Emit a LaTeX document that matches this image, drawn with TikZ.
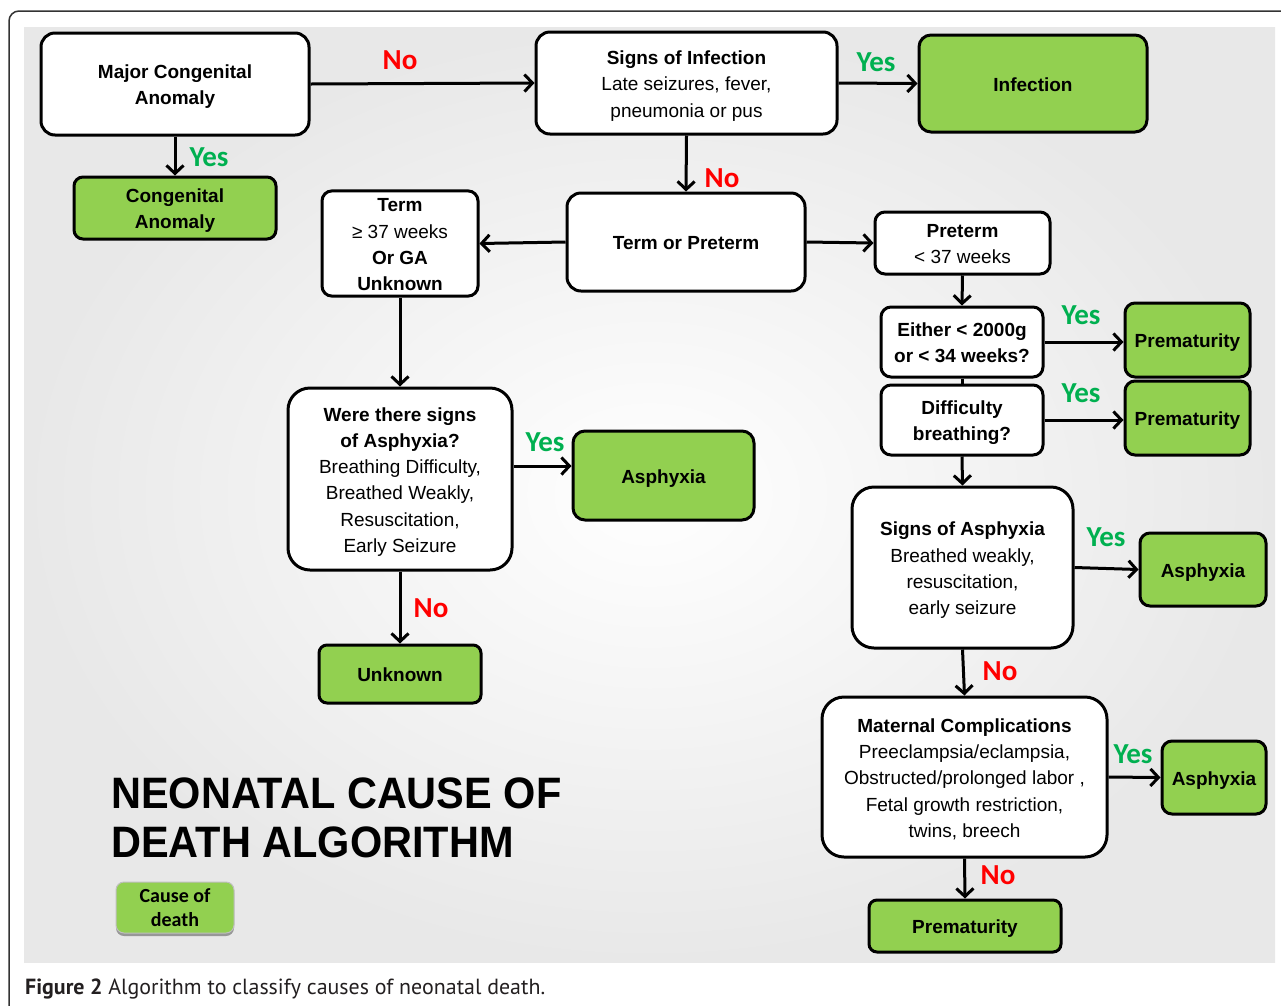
\documentclass[tikz,border=0pt]{standalone}
\usepackage{fontspec}
\setmainfont{Liberation Sans}
\newfontfamily\yn{Carlito}
\newfontfamily\capfont{PT Sans}
\usetikzlibrary{arrows.meta,shadows}
\definecolor{boxgreen}{HTML}{92D050}
\definecolor{yesgreen}{HTML}{00B050}
\definecolor{nored}{HTML}{FF0000}
\definecolor{captext}{HTML}{231F20}
\newcommand\tl[1]{\raisebox{-2.5pt}[\height][\depth]{\begin{tabular}{@{}c@{}}#1\end{tabular}}}
\tikzset{
  box/.style={draw=black, line width=3pt, fill=white, rounded corners=14pt, inner sep=0pt,
    font=\fontsize{19}{26.3}\selectfont},
  sbox/.style={box, rounded corners=10pt},
  gbox/.style={box, fill=boxgreen, rounded corners=12pt, font=\fontsize{19}{26.3}\selectfont\bfseries},
  conn/.style={line width=3pt, -{Straight Barb[length=8pt,width=17pt,line width=3pt]}},
  plain/.style={line width=3pt},
  yes/.style={text=yesgreen, font=\yn\fontsize{29}{29}\selectfont\bfseries, inner sep=0pt},
  no/.style={text=nored, font=\yn\fontsize{29}{29}\selectfont\bfseries, inner sep=0pt},
}
\begin{document}
\begin{tikzpicture}[x=1pt,y=-1pt]
\useasboundingbox (0,0) rectangle (1281,1005);
\fill[white] (0,0) rectangle (1281,1005);
% frame
\begin{scope}
\clip (0,0) rectangle (1281,1005);
\draw[draw=black!80, line width=1.5pt, rounded corners=10pt] (9,11) rectangle (1300,1030);
\end{scope}
% background
\shade[inner color=white, outer color=black!9] (24,27) rectangle (1275,962);

% nodes
\node[box, minimum width=268pt, minimum height=102pt] (mca) at (175,84) {\tl{\bfseries Major Congenital\\\bfseries Anomaly}};
\node[box, minimum width=301pt, minimum height=102pt] (soi) at (686.5,83) {\tl{\bfseries Signs of Infection\\Late seizures, fever,\\pneumonia or pus}};
\node[gbox, minimum width=228pt, minimum height=97pt] (inf) at (1033,83.5) {\tl{\bfseries Infection}};
\node[gbox, rounded corners=9pt, minimum width=202pt, minimum height=62pt] (ca) at (175,208) {\tl{\bfseries Congenital\\\bfseries Anomaly}};
\node[sbox, minimum width=156pt, minimum height=101pt] (term) at (400,243.5) {\tl{\bfseries Term\\≥ 37 weeks\\\bfseries Or GA\\\bfseries Unknown}};
\node[box, minimum width=238pt, minimum height=98pt] (top) at (686,242) {\tl{\bfseries Term or Preterm}};
\node[sbox, minimum width=175pt, minimum height=62pt] (pre) at (962.5,243) {\tl{\bfseries Preterm\\< 37 weeks}};
\node[sbox, minimum width=162pt, minimum height=70pt] (either) at (962,342) {\tl{\bfseries Either < 2000g\\\bfseries or < 34 weeks?}};
\node[sbox, minimum width=162pt, minimum height=70pt] (diff) at (962,420) {\tl{\bfseries Difficulty\\\bfseries breathing?}};
\node[gbox, rounded corners=10pt, minimum width=125pt, minimum height=74pt] (prem1) at (1187.5,340) {\tl{\bfseries Prematurity}};
\node[gbox, rounded corners=10pt, minimum width=125pt, minimum height=74pt] (prem2) at (1187.5,418) {\tl{\bfseries Prematurity}};
\node[box, rounded corners=22pt, minimum width=224pt, minimum height=182pt] (were) at (400,479) {\tl{\bfseries Were there signs\\\bfseries of Asphyxia?\\Breathing Difficulty,\\Breathed Weakly,\\Resuscitation,\\Early Seizure}};
\node[gbox, minimum width=181pt, minimum height=89pt] (asl) at (663.5,475.5) {\tl{\bfseries Asphyxia}};
\node[gbox, rounded corners=8pt, minimum width=162pt, minimum height=58pt] (unk) at (400,674) {\tl{\bfseries Unknown}};
\node[box, rounded corners=22pt, minimum width=221pt, minimum height=161pt] (soa) at (962.5,567.5) {\tl{\bfseries Signs of Asphyxia\\Breathed weakly,\\resuscitation,\\early seizure}};
\node[gbox, rounded corners=10pt, minimum width=126pt, minimum height=73pt] (asr) at (1203,569.5) {\tl{\bfseries Asphyxia}};
\node[box, rounded corners=22pt, minimum width=285pt, minimum height=160pt] (mat) at (964.5,777) {\tl{\bfseries Maternal Complications\\Preeclampsia/eclampsia,\\Obstructed/prolonged labor ,\\Fetal growth restriction,\\twins, breech}};
\node[gbox, rounded corners=10pt, minimum width=104pt, minimum height=73pt] (as3) at (1214,777.5) {\tl{\bfseries Asphyxia}};
\node[gbox, rounded corners=8pt, minimum width=192pt, minimum height=52pt] (premb) at (965,926) {\tl{\bfseries Prematurity}};
\node[draw=black!25, line width=1pt, fill=boxgreen, rounded corners=8pt, minimum width=118pt, minimum height=51pt, inner sep=0pt,
  font=\yn\fontsize{20}{24}\selectfont,
  drop shadow={shadow xshift=0pt, shadow yshift=-3pt, opacity=0.35, fill=black}] (cod) at (175,907.5) {\tl{\bfseries Cause of\\\bfseries death}};

% title and caption
\node[anchor=base west, inner sep=0pt, font=\fontsize{44}{50}\selectfont\bfseries] (t1) at (111,808) {\scalebox{0.943}[1]{NEONATAL CAUSE OF}};
\node[anchor=base west, inner sep=0pt, font=\fontsize{44}{50}\selectfont\bfseries] (t2) at (111,857) {\scalebox{0.943}[1]{DEATH ALGORITHM}};
\node[anchor=base west, inner sep=0pt, font=\capfont\fontsize{19}{24}\selectfont, text=captext] (cap) at (25,994) {\resizebox{520pt}{!}{\bfseries Figure 2\mdseries\ Algorithm to classify causes of neonatal death.}};

% connectors
\coordinate (wy) at (0,466);
\draw[conn] (mca.east) -- (soi.west);
\draw[conn] (mca.south) -- (ca.north);
\draw[conn] (soi.east) -- (inf.west);
\draw[conn] (soi.south) -- (top.north);
\draw[conn] (top.west) -- (term.east);
\draw[conn] (top.east) -- (pre.west);
\draw[conn] (term.south) -- (were.north);
\draw[conn] (pre.south) -- (either.north);
\draw[conn] (either.east) -- (prem1.west |- either.east);
\draw[plain] (either.south) -- (diff.north);
\draw[conn] (diff.east) -- (prem2.west |- diff.east);
\draw[conn] (diff.south) -- (soa.north);
\draw[conn] (were.east |- wy) -- (asl.west |- wy);
\draw[conn] (were.south) -- (unk.north);
\draw[conn] (soa.east) -- (asr.west);
\draw[conn] (soa.south) -- (mat.north);
\draw[conn] (mat.east) -- (as3.west);
\draw[conn] (mat.south) -- (premb.north);

% labels
\node[no] (l1) at (400,60) {No};
\node[yes] (l2) at (209,157) {Yes};
\node[yes] (l3) at (876,62) {Yes};
\node[no] (l4) at (722,178) {No};
\node[yes] (l5) at (1081,315) {Yes};
\node[yes] (l6) at (1081,393) {Yes};
\node[yes] (l7) at (545,442) {Yes};
\node[no] (l8) at (431,608) {No};
\node[yes] (l9) at (1106,537) {Yes};
\node[no] (l10) at (1000,671) {No};
\node[yes] (l11) at (1133,754) {Yes};
\node[no] (l12) at (998,875) {No};
\end{tikzpicture}
\end{document}
